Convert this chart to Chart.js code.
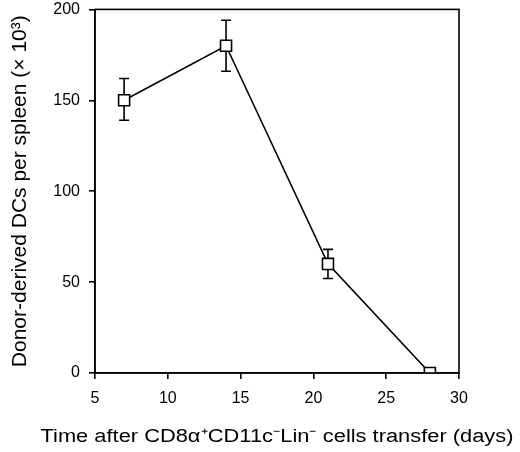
<!DOCTYPE html>
<html>
<head>
<meta charset="utf-8">
<script src="https://cdn.jsdelivr.net/npm/chart.js@4.4.1/dist/chart.umd.min.js"></script>
<style>
  html, body { margin: 0; padding: 0; background: #fff; }
  #wrap { width: 520px; height: 452px; }
</style>
</head>
<body>
<div id="wrap"><canvas id="chart" width="520" height="452"></canvas></div>
<script>
// values
const days = [7, 14, 21, 28];
const donorDCs = [150, 180, 60, 0];
const errUpper = [162, 194, 68, null];
const errLower = [139, 166, 52, null];

const xTicks = [5, 10, 15, 20, 25, 30];
const yTicks = [0, 50, 100, 150, 200];

const xTitle = 'Time after CD8α⁺CD11c⁻Lin⁻ cells transfer (days)';
const yTitle = 'Donor-derived DCs per spleen (× 10³)';

const FONT = "'Liberation Sans', Arial, sans-serif";

// error bars, drawn under the squares
const errorBars = {
    id: 'errorBars',
    beforeDatasetsDraw(chart) {
        const ctx = chart.ctx;
        const x = chart.scales.x, y = chart.scales.y;
        ctx.save();
        ctx.strokeStyle = '#000';
        ctx.lineWidth = 1.6;
        days.forEach((d, i) => {
            if (errUpper[i] == null) return;
            const px = x.getPixelForValue(d);
            const top = y.getPixelForValue(errUpper[i]);
            const bot = y.getPixelForValue(errLower[i]);
            ctx.beginPath();
            ctx.moveTo(px, top); ctx.lineTo(px, bot);
            ctx.moveTo(px - 5, top); ctx.lineTo(px + 5, top);
            ctx.moveTo(px - 5, bot); ctx.lineTo(px + 5, bot);
            ctx.stroke();
        });
        ctx.restore();
    }
};

// closed box round the plot + the wide x title
const frame = {
    id: 'frame',
    afterDraw(chart) {
        const a = chart.chartArea;
        const ctx = chart.ctx;
        ctx.save();
        ctx.strokeStyle = '#000';
        ctx.lineWidth = 1.6;
        ctx.strokeRect(a.left, a.top, a.right - a.left, a.bottom - a.top);
        ctx.restore();

        // the original title is set in a wide face, about 473px across
        ctx.save();
        ctx.font = '18px ' + FONT;
        ctx.fillStyle = '#000';
        ctx.textAlign = 'center';
        ctx.textBaseline = 'middle';
        const stretch = 473 / ctx.measureText(xTitle).width;
        ctx.translate((a.left + a.right) / 2, 437);
        ctx.scale(stretch, 1);
        ctx.fillText(xTitle, 0, 0);
        ctx.restore();
    }
};

new Chart(document.getElementById('chart'), {
    type: 'line',
    data: {
        datasets: [{
            data: days.map((d, i) => ({x: d, y: donorDCs[i]})),
            borderColor: '#000',
            borderWidth: 1.6,
            backgroundColor: '#fff',
            pointStyle: 'rect',
            pointRadius: 7.8,
            pointBorderWidth: 1.6,
            pointBackgroundColor: '#fff',
            pointBorderColor: '#000',
            tension: 0
        }]
    },
    options: {
        responsive: false,
        animation: false,
        layout: { padding: { left: 0, top: 8, right: 61, bottom: 0 } },
        plugins: { legend: { display: false }, tooltip: { enabled: false } },
        scales: {
            x: {
                type: 'linear',
                min: 5, max: 30,
                afterBuildTicks: s => { s.ticks = xTicks.map(v => ({value: v})); },
                afterFit: s => { s.height = 79; s.paddingLeft = 0; s.paddingRight = 0; },
                grid: { drawOnChartArea: false, drawTicks: true, tickLength: 6, color: '#000', lineWidth: 1.6 },
                border: { display: true, color: '#000', width: 1.6 },
                ticks: { color: '#000', padding: 10, maxRotation: 0, font: { family: FONT, size: 16 } }
            },
            y: {
                min: 0, max: 200,
                afterBuildTicks: s => { s.ticks = yTicks.map(v => ({value: v})); },
                afterFit: s => { s.width = 95; s.paddingTop = 0; s.paddingBottom = 0; },
                grid: { drawOnChartArea: false, drawTicks: true, tickLength: 6, color: '#000', lineWidth: 1.6 },
                border: { display: true, color: '#000', width: 1.6 },
                ticks: { color: '#000', padding: 9, font: { family: FONT, size: 16 } },
                title: {
                    display: true,
                    text: yTitle,
                    color: '#000',
                    padding: { top: 8, bottom: 0 },
                    font: { family: FONT, size: 21 }
                }
            }
        }
    },
    plugins: [errorBars, frame]
});
</script>
</body>
</html>
